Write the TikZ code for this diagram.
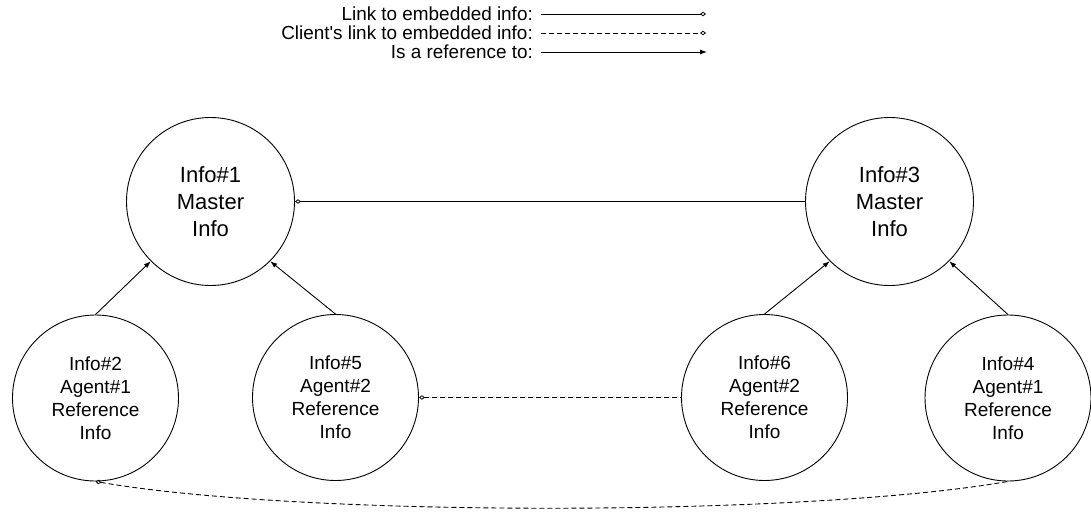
\documentclass[tikz,border=0pt]{standalone}
\usepackage{fontspec}
\setmainfont{Liberation Sans}
\usetikzlibrary{arrows.meta}
\tikzset{
  master/.style={circle,draw,line width=0.9pt,minimum size=168pt,inner sep=0pt,align=center,font=\fontsize{22}{27}\selectfont},
  refnode/.style={circle,draw,line width=0.9pt,minimum size=166pt,inner sep=0pt,align=center,font=\fontsize{19}{23}\selectfont},
  legtext/.style={anchor=east,inner sep=0pt,font=\fontsize{18.9}{22}\selectfont},
  embed/.style={line width=0.9pt},
  client/.style={line width=0.9pt,dash pattern=on 5pt off 3pt},
  refto/.style={line width=0.9pt,-{Latex[length=7pt,width=5pt]}},
  mk/.tip={Diamond[open,length=6pt,width=4.5pt,line width=0.8pt]}
}
\begin{document}
\begin{tikzpicture}[x=1pt,y=-1pt]
\useasboundingbox (0,0) rectangle (1091,514);
% legend
\node[legtext] (t1) at (533,14) {Link to embedded info:};
\node[legtext] (t2) at (533,33) {Client\textquotesingle s link to embedded info:};
\node[legtext] (t3) at (533,52) {Is a reference to:};
\coordinate (l1a) at (541,14);
\coordinate (l1b) at (706,14);
\coordinate (l2a) at (541,33);
\coordinate (l2b) at (706,33);
\coordinate (l3a) at (541,52);
\coordinate (l3b) at (707,52);
\draw[embed,-mk] (l1a) -- (l1b);
\draw[client,-mk] (l2a) -- (l2b);
\draw[refto] (l3a) -- (l3b);
% nodes
\node[master] (i1) at (210.5,201.5) {Info\#1\\Master\\Info};
\node[master] (i3) at (889.5,201.5) {Info\#3\\Master\\Info};
\node[refnode] (i2) at (95.5,398) {Info\#2\\Agent\#1\\Reference\\Info};
\node[refnode] (i5) at (335.5,397.5) {Info\#5\\Agent\#2\\Reference\\Info};
\node[refnode] (i6) at (764.5,397.5) {Info\#6\\Agent\#2\\Reference\\Info};
\node[refnode] (i4) at (1008,398) {Info\#4\\Agent\#1\\Reference\\Info};
% connectors
\draw[embed,mk-] (i1.east) -- (i3.west);
\draw[client,mk-] (i5.east) -- (i6.west);
\draw[refto] (i2.north) -- (i1.south west);
\draw[refto] (i5.north) -- (i1.south east);
\draw[refto] (i6.north) -- (i3.south west);
\draw[refto] (i4.north) -- (i3.south east);
\draw[client,mk-] (i2.south) .. controls (300,517) and (804,517) .. (i4.south);
\end{tikzpicture}
\end{document}
